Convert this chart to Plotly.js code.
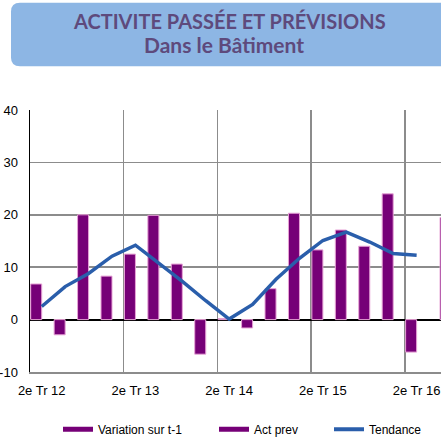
<!DOCTYPE html>
<html>
<head>
<meta charset="utf-8">
<script src="https://cdn.plot.ly/plotly-3.0.1.min.js"></script>
<style>
html,body{margin:0;padding:0;background:#fff;}
#chart{width:441px;height:444px;}
</style>
</head>
<body>
<div id="chart"></div>
<script>
// ---- data ----
const categories = ["2e Tr 12","3e Tr 12","4e Tr 12","1er Tr 13","2e Tr 13","3e Tr 13","4e Tr 13","1er Tr 14",
  "2e Tr 14","3e Tr 14","4e Tr 14","1er Tr 15","2e Tr 15","3e Tr 15","4e Tr 15","1er Tr 16","2e Tr 16","3e Tr 16"];
const variation = [6.8,-2.9,20.0,8.3,12.5,19.9,10.6,-6.6,0.2,-1.6,5.9,20.3,13.3,17.1,14.0,24.0,-6.2,null];
const actPrev   = [null,null,null,null,null,null,null,null,null,null,null,null,null,null,null,null,null,19.5];
const tendance  = [2.5,6.3,8.8,12.1,14.2,10.8,7.3,3.6,0.1,2.9,7.7,11.7,15.1,16.7,14.8,12.6,12.3,null];
const yTicks = [-10,0,10,20,30,40];
const titleLine1 = "ACTIVITE PASSÉE ET PRÉVISIONS";
const titleLine2 = "Dans le Bâtiment";

const purple = "#760077";
const barEdge = "#E7A3D6";
const blue = "#2A5EAB";
const gridCol = "#8C8C8C";
const axisFont = {family: 'Arial, "Liberation Sans", sans-serif', size: 13, color: "#000"};

const traces = [
  {type:"bar", x:categories, y:variation, name:"Variation sur t-1", showlegend:false,
   marker:{color:purple, line:{color:barEdge, width:1}}, hoverinfo:"skip"},
  {type:"bar", x:categories, y:actPrev, name:"Act prev", showlegend:false,
   marker:{color:purple, line:{color:barEdge, width:1}}, hoverinfo:"skip"},
  {type:"scatter", mode:"lines", x:categories, y:tendance, name:"Tendance", showlegend:false,
   line:{color:blue, width:3.5}, hoverinfo:"skip"},
  // legend entries
  {type:"scatter", mode:"lines", x:[null], y:[null], name:"Variation sur t-1", legend:"legend",
   line:{color:purple, width:5}},
  {type:"scatter", mode:"lines", x:[null], y:[null], name:"Act prev", legend:"legend2",
   line:{color:purple, width:5}},
  {type:"scatter", mode:"lines", x:[null], y:[null], name:"Tendance", legend:"legend3",
   line:{color:blue, width:4}}
];

// pixel helpers for layout positions
const L = 30, R = 441, T = 110, B = 376;
const px = v => (v - L) / (R - L);
const py = v => (B - v) / (B - T);

function roundRect(x0, y0, x1, y1, r) {
  const rx = r / (R - L), ry = r / (B - T);
  const a = px(x0), b = px(x1), top = py(y0), bot = py(y1);
  return `M${a+rx},${top} L${b-rx},${top} Q${b},${top} ${b},${top-ry} L${b},${bot+ry} Q${b},${bot} ${b-rx},${bot} ` +
         `L${a+rx},${bot} Q${a},${bot} ${a},${bot+ry} L${a},${top-ry} Q${a},${top} ${a+rx},${top} Z`;
}

const legendFont = {family: 'Arial, "Liberation Sans", sans-serif', size: 12, color: "#000"};
const legBase = {orientation:"h", xanchor:"left", yanchor:"middle", bgcolor:"rgba(0,0,0,0)", font:legendFont,
  borderwidth:0, itemwidth:30};

const layout = {
  width:441, height:444,
  margin:{l:L, r:0, t:T, b:444-B, pad:0},
  paper_bgcolor:"#fff", plot_bgcolor:"#fff",
  barmode:"group", bargap:0.06, bargroupgap:0,
  showlegend:true,
  xaxis:{type:"category", range:[-0.5, 17.04], tickmode:"linear", tick0:0, dtick:4,
    tickson:"boundaries", showgrid:true, gridcolor:gridCol, gridwidth:1.5,
    showline:true, linecolor:gridCol, linewidth:1.5, ticks:"", tickfont:axisFont, tickangle:0,
    ticklabelstandoff:6, zeroline:false, fixedrange:true},
  yaxis:{range:[-10,40], tickmode:"array", tickvals:yTicks, ticktext:yTicks.map(String),
    showgrid:true, gridcolor:gridCol, gridwidth:1.5,
    showline:true, linecolor:"#000", linewidth:1.5,
    zeroline:true, zerolinecolor:"#000", zerolinewidth:2,
    ticks:"", tickfont:axisFont, ticklabelstandoff:8, fixedrange:true},
  legend: Object.assign({}, legBase, {x:px(58), y:py(434)}),
  legend2: Object.assign({}, legBase, {x:px(214), y:py(434)}),
  legend3: Object.assign({}, legBase, {x:px(329), y:py(434)}),
  shapes:[
    {type:"path", xref:"paper", yref:"paper", path:roundRect(11, 1, 470, 65.7, 9),
     fillcolor:"#8DB6E4", line:{width:0}, layer:"below"}
  ],
  annotations:[
    {xref:"paper", yref:"paper", x:px(229.5), y:py(19.5), xanchor:"center", yanchor:"middle",
     text:"<b>"+titleLine1+"</b>", showarrow:false,
     font:{family:"Lato, 'Open Sans', sans-serif", size:20, color:"#5E4A7C"}},
    {xref:"paper", yref:"paper", x:px(223.5), y:py(44), xanchor:"center", yanchor:"middle",
     text:"<b>"+titleLine2+"</b>", showarrow:false,
     font:{family:"Lato, 'Open Sans', sans-serif", size:21, color:"#5E4A7C"}}
  ]
};

Plotly.newPlot("chart", traces, layout, {staticPlot:true, displayModeBar:false});
</script>
</body>
</html>
